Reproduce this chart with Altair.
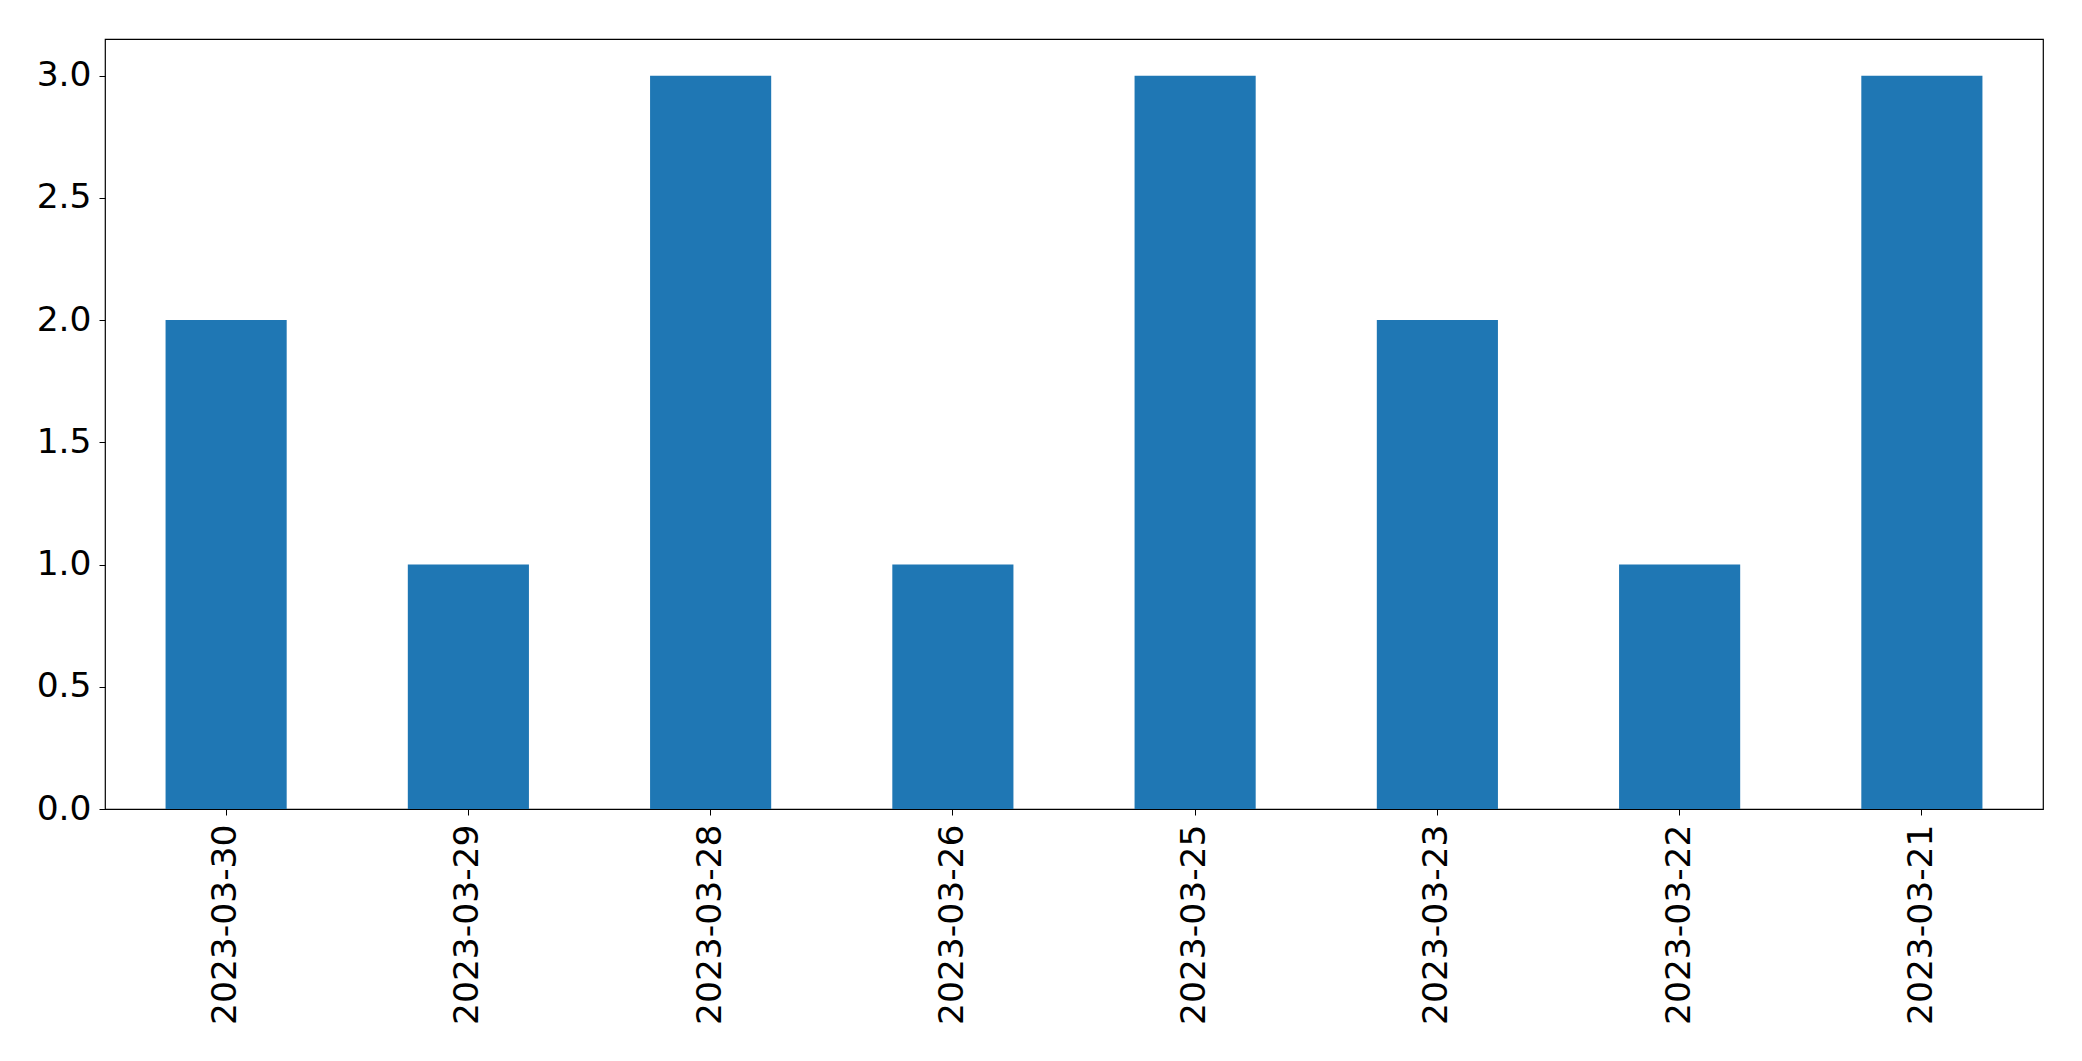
import altair as alt
import pandas as pd

dates = ["2023-03-30", "2023-03-29", "2023-03-28", "2023-03-26",
         "2023-03-25", "2023-03-23", "2023-03-22", "2023-03-21"]
counts = [2, 1, 3, 1, 3, 2, 1, 3]
y_ticks = [0.0, 0.5, 1.0, 1.5, 2.0, 2.5, 3.0]

df = pd.DataFrame({"date": dates, "count": counts})

FONT = "DejaVu Sans"
FS = 34.5

chart = alt.Chart(df).mark_bar(color="#1f77b4").encode(
    x=alt.X("date:N", sort=None, title=None,
            scale=alt.Scale(paddingInner=0.5, paddingOuter=0.25),
            axis=alt.Axis(labelAngle=-90, labelFont=FONT, labelFontSize=FS,
                          labelColor="black", tickColor="black", tickSize=6,
                          tickWidth=1, labelPadding=9, domain=False,
                          grid=False, labelLimit=0)),
    y=alt.Y("count:Q", title=None,
            scale=alt.Scale(domain=[0, 3.15], nice=False, zero=True),
            axis=alt.Axis(values=y_ticks, format=".1f", labelFont=FONT,
                          labelFontSize=FS, labelColor="black",
                          tickColor="black", tickSize=6, tickWidth=1,
                          labelPadding=8, domain=False, grid=False,
                          minExtent=97, maxExtent=97, labelLimit=0)),
).properties(
    width=1938,
    height=770,
    padding={"left": 0, "top": 31, "right": 5, "bottom": 5},
).configure_view(
    stroke="black", strokeWidth=1.2
)

chart.save("out.html", embed_options={"renderer": "svg", "actions": False})
